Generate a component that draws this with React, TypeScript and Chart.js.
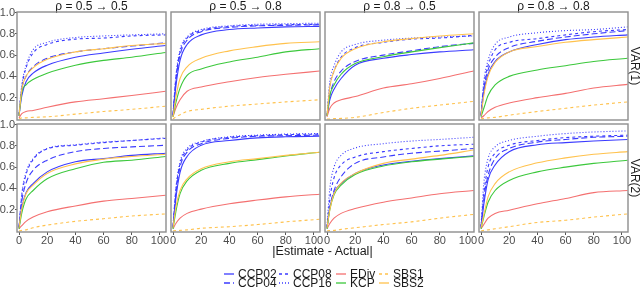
import React, { useEffect, useRef } from "react";
import { Chart, registerables } from "chart.js";

Chart.register(...registerables);

// ---------- data ----------
const XS = [0, 2, 5, 10, 20, 40, 60, 80, 104];
const X_TICKS = [0, 20, 40, 60, 80, 100];
const Y_TICKS = [0.2, 0.4, 0.6, 0.8, 1.0];
const COL_TITLES = ["ρ = 0.5 → 0.5", "ρ = 0.5 → 0.8", "ρ = 0.8 → 0.5", "ρ = 0.8 → 0.8"];
const ROW_TITLES = ["VAR(1)", "VAR(2)"];
const X_TITLE = "|Estimate - Actual|";
const SERIES_NAMES = ["CCP02", "CCP04", "CCP08", "CCP16", "EDiv", "KCP", "SBS1", "SBS2"];

// each array: 8 panels (row-major: VAR(1) x 4 rho settings, then VAR(2) x 4), values at XS
const CCP02 = [
  [0.03, 0.22, 0.35, 0.43, 0.505, 0.58, 0.62, 0.655, 0.69],
  [0.03, 0.30, 0.55, 0.70, 0.79, 0.84, 0.855, 0.865, 0.87],
  [0.03, 0.18, 0.28, 0.38, 0.505, 0.57, 0.605, 0.63, 0.65],
  [0.03, 0.25, 0.42, 0.54, 0.63, 0.70, 0.745, 0.77, 0.79],
  [0.03, 0.22, 0.36, 0.445, 0.555, 0.65, 0.68, 0.71, 0.73],
  [0.03, 0.30, 0.55, 0.70, 0.805, 0.85, 0.875, 0.885, 0.89],
  [0.03, 0.22, 0.36, 0.445, 0.54, 0.62, 0.655, 0.68, 0.705],
  [0.03, 0.25, 0.48, 0.62, 0.745, 0.81, 0.83, 0.845, 0.86],
];
const CCP04 = [
  [0.03, 0.28, 0.40, 0.49, 0.57, 0.63, 0.66, 0.685, 0.715],
  [0.03, 0.35, 0.60, 0.74, 0.82, 0.86, 0.875, 0.88, 0.885],
  [0.03, 0.22, 0.35, 0.45, 0.54, 0.60, 0.64, 0.68, 0.71],
  [0.03, 0.28, 0.46, 0.58, 0.67, 0.73, 0.77, 0.80, 0.83],
  [0.03, 0.28, 0.45, 0.57, 0.665, 0.745, 0.775, 0.79, 0.805],
  [0.03, 0.34, 0.60, 0.74, 0.82, 0.87, 0.89, 0.895, 0.90],
  [0.03, 0.22, 0.38, 0.51, 0.635, 0.695, 0.73, 0.75, 0.775],
  [0.03, 0.30, 0.52, 0.68, 0.775, 0.835, 0.86, 0.88, 0.89],
];
const CCP08 = [
  [0.04, 0.30, 0.48, 0.62, 0.70, 0.75, 0.76, 0.78, 0.79],
  [0.04, 0.38, 0.63, 0.76, 0.83, 0.87, 0.88, 0.885, 0.89],
  [0.03, 0.30, 0.45, 0.58, 0.67, 0.72, 0.75, 0.76, 0.785],
  [0.04, 0.32, 0.50, 0.65, 0.72, 0.755, 0.79, 0.82, 0.84],
  [0.04, 0.33, 0.53, 0.67, 0.77, 0.805, 0.83, 0.85, 0.87],
  [0.04, 0.38, 0.63, 0.76, 0.835, 0.88, 0.895, 0.905, 0.91],
  [0.04, 0.30, 0.50, 0.62, 0.695, 0.745, 0.775, 0.80, 0.815],
  [0.04, 0.35, 0.60, 0.73, 0.805, 0.85, 0.877, 0.89, 0.90],
];
const CCP16 = [
  [0.05, 0.32, 0.50, 0.65, 0.72, 0.765, 0.78, 0.79, 0.80],
  [0.04, 0.40, 0.65, 0.77, 0.84, 0.875, 0.89, 0.895, 0.90],
  [0.04, 0.35, 0.50, 0.63, 0.70, 0.74, 0.76, 0.77, 0.78],
  [0.04, 0.35, 0.55, 0.70, 0.77, 0.81, 0.83, 0.84, 0.865],
  [0.04, 0.35, 0.55, 0.68, 0.775, 0.81, 0.835, 0.85, 0.875],
  [0.04, 0.40, 0.65, 0.775, 0.84, 0.885, 0.90, 0.91, 0.915],
  [0.05, 0.40, 0.60, 0.71, 0.78, 0.82, 0.845, 0.86, 0.88],
  [0.05, 0.45, 0.68, 0.79, 0.85, 0.89, 0.915, 0.93, 0.94],
];
const EDIV = [
  [0.01, 0.05, 0.07, 0.08, 0.11, 0.16, 0.19, 0.22, 0.26],
  [0.02, 0.10, 0.18, 0.26, 0.30, 0.35, 0.39, 0.42, 0.45],
  [0.02, 0.10, 0.15, 0.18, 0.21, 0.29, 0.33, 0.38, 0.45],
  [0.01, 0.03, 0.07, 0.11, 0.15, 0.20, 0.24, 0.29, 0.325],
  [0.02, 0.05, 0.09, 0.13, 0.18, 0.235, 0.28, 0.305, 0.335],
  [0.02, 0.07, 0.12, 0.165, 0.205, 0.255, 0.29, 0.32, 0.345],
  [0.02, 0.07, 0.12, 0.165, 0.21, 0.27, 0.31, 0.35, 0.38],
  [0.02, 0.06, 0.12, 0.165, 0.195, 0.255, 0.305, 0.36, 0.38],
];
const KCP = [
  [0.03, 0.25, 0.32, 0.37, 0.43, 0.505, 0.55, 0.58, 0.625],
  [0.02, 0.15, 0.29, 0.41, 0.47, 0.535, 0.58, 0.63, 0.66],
  [0.03, 0.22, 0.32, 0.42, 0.52, 0.585, 0.63, 0.67, 0.715],
  [0.02, 0.10, 0.22, 0.32, 0.40, 0.46, 0.50, 0.54, 0.57],
  [0.02, 0.17, 0.30, 0.38, 0.49, 0.585, 0.645, 0.665, 0.70],
  [0.02, 0.18, 0.35, 0.47, 0.57, 0.635, 0.67, 0.705, 0.74],
  [0.02, 0.20, 0.34, 0.43, 0.53, 0.61, 0.65, 0.675, 0.70],
  [0.02, 0.13, 0.27, 0.38, 0.475, 0.555, 0.60, 0.635, 0.665],
];
const SBS1 = [
  [0.0, 0.01, 0.01, 0.015, 0.02, 0.045, 0.07, 0.09, 0.12],
  [0.0, 0.02, 0.04, 0.07, 0.09, 0.12, 0.14, 0.16, 0.18],
  [0.0, 0.0, 0.003, 0.005, 0.015, 0.06, 0.10, 0.13, 0.165],
  [0.0, 0.005, 0.01, 0.015, 0.035, 0.07, 0.10, 0.13, 0.16],
  [0.0, 0.005, 0.01, 0.03, 0.055, 0.09, 0.115, 0.14, 0.16],
  [0.0, 0.003, 0.005, 0.01, 0.025, 0.04, 0.06, 0.085, 0.11],
  [0.0, 0.003, 0.005, 0.015, 0.03, 0.06, 0.085, 0.12, 0.155],
  [0.0, 0.005, 0.01, 0.02, 0.04, 0.08, 0.10, 0.13, 0.16],
];
const SBS2 = [
  [0.03, 0.28, 0.40, 0.48, 0.56, 0.63, 0.66, 0.69, 0.71],
  [0.02, 0.20, 0.38, 0.49, 0.57, 0.64, 0.68, 0.71, 0.725],
  [0.03, 0.30, 0.45, 0.57, 0.66, 0.725, 0.755, 0.78, 0.80],
  [0.03, 0.22, 0.40, 0.53, 0.63, 0.68, 0.72, 0.745, 0.77],
  [0.03, 0.21, 0.35, 0.43, 0.54, 0.63, 0.675, 0.70, 0.72],
  [0.03, 0.22, 0.38, 0.49, 0.585, 0.65, 0.68, 0.71, 0.74],
  [0.03, 0.20, 0.35, 0.45, 0.54, 0.635, 0.675, 0.71, 0.76],
  [0.03, 0.15, 0.32, 0.445, 0.555, 0.64, 0.687, 0.72, 0.745],
];

const SERIES_VALUES = [CCP02, CCP04, CCP08, CCP16, EDIV, KCP, SBS1, SBS2];

// ---------- styles ----------
const BLUE = "#3b3bff";
const RED = "#f47070";
const GREEN = "#3cc83c";
const ORANGE = "#ffc24d";
const COLORS = [BLUE, BLUE, BLUE, BLUE, RED, GREEN, ORANGE, ORANGE];
const DASHES: number[][] = [[], [6, 3], [3, 3], [1, 2], [], [], [3, 3], []];
const FONT = "'Liberation Sans', Arial, sans-serif";

const COL_LEFT = [17, 171, 325, 479];
const ROW_TOP = [12, 124];
const PW = 149;
const PH = 108;
const M = 8;

const borderPlugin = {
  id: "panelBorder",
  afterDatasetsDraw(chart: any) {
    const { ctx, chartArea } = chart;
    ctx.save();
    ctx.strokeStyle = "#8e8e8e";
    ctx.lineWidth = 1.4;
    ctx.strokeRect(chartArea.left, chartArea.top, chartArea.right - chartArea.left, chartArea.bottom - chartArea.top);
    ctx.restore();
  },
};

function Panel({ r, c }: { r: number; c: number }) {
  const ref = useRef<HTMLCanvasElement>(null);
  const padLeft = c === 0 ? 17 : 0;
  const padRight = c === 3 ? 12 : 0;
  const padTop = r === 0 ? 12 : 0;
  const padBottom = r === 1 ? 14 : 0;
  const left = COL_LEFT[c] - padLeft - M;
  const top = ROW_TOP[r] - padTop - M;
  const width = PW + padLeft + padRight + 2 * M;
  const height = PH + padTop + padBottom + 2 * M;
  const p = r * 4 + c;

  useEffect(() => {
    const datasets = SERIES_NAMES.map((name, i) => ({
      label: name,
      data: XS.map((x, k) => ({ x, y: SERIES_VALUES[i][p][k] })),
      borderColor: COLORS[i],
      borderDash: DASHES[i],
      borderWidth: 1.1,
      pointRadius: 0,
      fill: false,
      cubicInterpolationMode: "monotone" as const,
      order: 8 - i,
    }));
    const scales: any = {
      x: {
        type: "linear",
        min: -1.42,
        max: 104.3,
        display: r === 1,
        afterBuildTicks: (s: any) => {
          s.ticks = X_TICKS.map((v) => ({ value: v }));
        },
        afterFit: (s: any) => {
          s.height = padBottom;
          s.paddingLeft = 0;
          s.paddingRight = 0;
        },
        ticks: {
          color: "#4d4d4d",
          font: { size: 11, family: FONT, lineHeight: 1 },
          padding: 0,
          maxRotation: 0,
          autoSkip: false,
          callback: (v: any) => String(v),
        },
        grid: { display: true, drawOnChartArea: false, drawTicks: true, tickLength: 3, color: "#555" },
        border: { display: false },
      },
      y: {
        type: "linear",
        min: -0.01,
        max: 1.005,
        display: c === 0,
        afterBuildTicks: (s: any) => {
          s.ticks = Y_TICKS.map((v) => ({ value: v }));
        },
        afterFit: (s: any) => {
          s.width = padLeft;
          s.paddingTop = 0;
          s.paddingBottom = 0;
        },
        ticks: {
          color: "#4d4d4d",
          font: { size: 11, family: FONT, lineHeight: 1 },
          padding: 0,
          autoSkip: false,
          callback: (v: any) => Number(v).toFixed(1),
        },
        grid: { display: true, drawOnChartArea: false, drawTicks: true, tickLength: 2, color: "#555" },
        border: { display: false },
      },
    };
    if (r === 0) {
      scales.x2 = {
        type: "linear",
        position: "top",
        display: true,
        grid: { display: false },
        border: { display: false },
        ticks: { display: false },
        title: {
          display: true,
          text: COL_TITLES[c],
          color: "#1a1a1a",
          font: { size: 12, family: FONT, lineHeight: 1 },
          padding: { top: 0.5, bottom: 0 },
        },
        afterFit: (s: any) => {
          s.height = padTop;
          s.paddingLeft = 0;
          s.paddingRight = 0;
        },
      };
    }
    if (c === 3) {
      scales.y2 = {
        type: "linear",
        position: "right",
        display: true,
        grid: { display: false },
        border: { display: false },
        ticks: { display: false },
        title: {
          display: true,
          text: ROW_TITLES[r],
          color: "#1a1a1a",
          font: { size: 12, family: FONT, lineHeight: 1 },
          padding: { top: 0, bottom: 0 },
        },
        afterFit: (s: any) => {
          s.width = padRight;
          s.paddingTop = 0;
          s.paddingBottom = 0;
        },
      };
    }
    const chart = new Chart(ref.current as HTMLCanvasElement, {
      type: "line",
      data: { datasets },
      options: {
        responsive: false,
        animation: false,
        layout: { padding: { left: M, right: M, top: M, bottom: M } },
        plugins: { legend: { display: false }, tooltip: { enabled: false }, title: { display: false } },
        scales,
      },
      plugins: [borderPlugin],
    } as any);
    return () => chart.destroy();
  }, []);

  return (
    <canvas
      ref={ref}
      width={width}
      height={height}
      style={{ position: "absolute", left, top, width, height }}
    />
  );
}

function LegendItem({ i, left, top }: { i: number; left: number; top: number }) {
  return (
    <div
      style={{
        position: "absolute",
        left,
        top,
        height: 10,
        display: "flex",
        alignItems: "center",
        fontFamily: FONT,
        fontSize: 12,
        color: "#1a1a1a",
        whiteSpace: "nowrap",
      }}
    >
      <svg width={10} height={4} style={{ display: "block" }}>
        <line
          x1={0}
          y1={2}
          x2={10}
          y2={2}
          stroke={COLORS[i]}
          strokeWidth={1.3}
          strokeDasharray={DASHES[i].length ? DASHES[i].join(",") : undefined}
        />
      </svg>
      <span style={{ marginLeft: 4, lineHeight: "10px" }}>{SERIES_NAMES[i]}</span>
    </div>
  );
}

export default function App() {
  const panels = [];
  for (let r = 0; r < 2; r++) for (let c = 0; c < 4; c++) panels.push(<Panel key={`${r}-${c}`} r={r} c={c} />);
  const legendCols = [224, 279, 336, 379];
  const legendRows = [268.5, 278];
  const items = [];
  for (let i = 0; i < SERIES_NAMES.length; i++) {
    const col = Math.floor(i / 2);
    const row = i % 2;
    items.push(<LegendItem key={i} i={i} left={legendCols[col]} top={legendRows[row]} />);
  }
  return (
    <div
      style={{
        position: "fixed",
        left: 0,
        top: 0,
        width: 640,
        height: 288,
        overflow: "hidden",
        background: "#ffffff",
      }}
    >
      {panels}
      <div
        style={{
          position: "absolute",
          left: 17,
          width: 611,
          top: 244,
          textAlign: "center",
          fontFamily: FONT,
          fontSize: 12.5,
          lineHeight: "15px",
          color: "#1a1a1a",
        }}
      >
        {X_TITLE}
      </div>
      {items}
    </div>
  );
}
